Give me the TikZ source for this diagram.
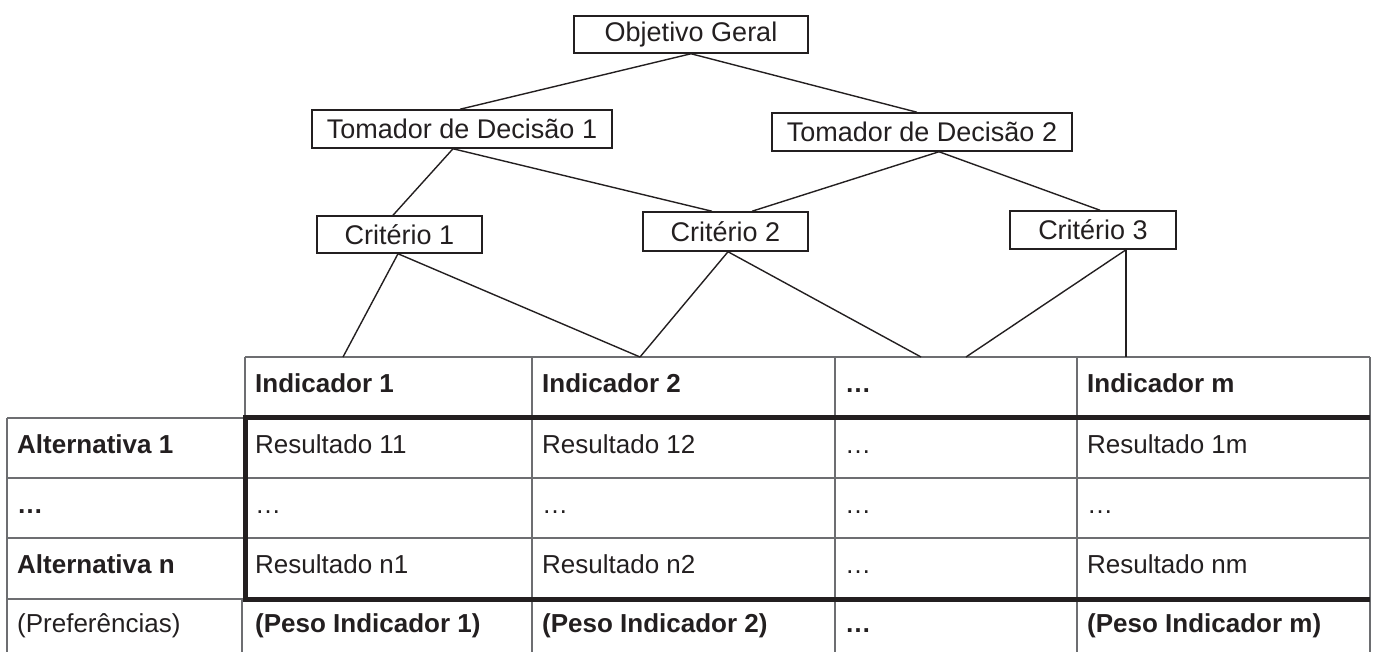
\documentclass[tikz,border=0pt]{standalone}
\usepackage{fontspec}
\setmainfont{Liberation Sans}
\definecolor{ink}{HTML}{231F20}
\definecolor{gridc}{HTML}{6D6E71}
\begin{document}
\begin{tikzpicture}[x=1pt,y=-1pt,
  box/.style={draw=ink, line width=1.5pt, inner sep=0pt, text=ink, font=\fontsize{27}{32}\selectfont},
  link/.style={draw=ink, line width=1.4pt},
  grid/.style={draw=gridc, line width=1.2pt},
  heavy/.style={draw=ink, line width=5pt, line join=miter},
  cell/.style={anchor=base west, inner sep=0pt, text=ink, font=\fontsize{26}{30}\selectfont},
  bcell/.style={anchor=base west, inner sep=0pt, text=ink, font=\fontsize{26}{30}\selectfont\bfseries}]
\useasboundingbox (0,0) rectangle (1375,652);

% tree boxes
\node[box, minimum width=234pt, minimum height=37pt] (obj) at (691,34.5) {Objetivo Geral};
\node[box, minimum width=300pt, minimum height=38pt] (tom1) at (462,129) {Tomador de Decisão 1};
\node[box, minimum width=300pt, minimum height=38pt] (tom2) at (922,132) {Tomador de Decisão 2};
\node[box, minimum width=165pt, minimum height=37pt] (cr1) at (399.5,234.5) {Critério 1};
\node[box, minimum width=165pt, minimum height=39pt] (cr2) at (725.5,231.5) {Critério 2};
\node[box, minimum width=166pt, minimum height=38pt] (cr3) at (1093,230) {Critério 3};

% free ends on the table top
\coordinate (e1) at (343,357);
\coordinate (e2) at (640,357);
\coordinate (e3) at (921,357);
\coordinate (e4) at (966,357);
\coordinate (e5) at (1126,357);

% table grid
\draw[grid] (245,357) -- (1370,357);
\draw[grid] (7,418) -- (245,418);
\draw[grid] (7,478) -- (1370,478);
\draw[grid] (7,538) -- (1370,538);
\draw[grid] (7,599) -- (245,599);
\draw[grid] (7,418) -- (7,652);
\draw[grid] (245,357) -- (245,599);
\draw[grid] (242,599) -- (242,652);
\draw[grid] (532,357) -- (532,652);
\draw[grid] (835,357) -- (835,652);
\draw[grid] (1077,357) -- (1077,652);
\draw[grid] (1370,357) -- (1370,652);
\draw[heavy] (1370,417) -- (245,417) -- (245,599) -- (1370,599);

% connectors
\draw[link] (obj.south) -- ([xshift=-2pt]tom1.north);
\draw[link] (obj.south) -- ([xshift=-5pt]tom2.north);
\draw[link] ([xshift=-9pt]tom1.south) -- ([xshift=-6.5pt]cr1.north);
\draw[link] ([xshift=-9pt]tom1.south) -- ([xshift=-13.5pt]cr2.north);
\draw[link] ([xshift=17pt]tom2.south) -- ([xshift=26.5pt]cr2.north);
\draw[link] ([xshift=17pt]tom2.south) -- ([xshift=7pt]cr3.north);
\draw[link] ([xshift=-1.5pt]cr1.south) -- (e1);
\draw[link] ([xshift=-1.5pt]cr1.south) -- (e2);
\draw[link] ([xshift=2.5pt]cr2.south) -- (e2);
\draw[link] ([xshift=2.5pt]cr2.south) -- (e3);
\draw[link] ([xshift=33pt]cr3.south) -- (e4);
\draw[link] ([xshift=33pt]cr3.south) -- (e5);

% header row
\node[bcell] (h1) at (255,392) {Indicador 1};
\node[bcell] (h2) at (542,392) {Indicador 2};
\node[bcell] (h3) at (845,392) {…};
\node[bcell] (h4) at (1087,392) {Indicador m};
% row 1
\node[bcell] (a1) at (17,453) {Alternativa 1};
\node[cell] (r11) at (255,453) {Resultado 11};
\node[cell] (r12) at (542,453) {Resultado 12};
\node[cell] (r13) at (845,453) {…};
\node[cell] (r14) at (1087,453) {Resultado 1m};
% row 2
\node[bcell] (a2) at (17,513) {…};
\node[cell] (r21) at (255,513) {…};
\node[cell] (r22) at (542,513) {…};
\node[cell] (r23) at (845,513) {…};
\node[cell] (r24) at (1087,513) {…};
% row 3
\node[bcell] (a3) at (17,573) {Alternativa n};
\node[cell] (r31) at (255,573) {Resultado n1};
\node[cell] (r32) at (542,573) {Resultado n2};
\node[cell] (r33) at (845,573) {…};
\node[cell] (r34) at (1087,573) {Resultado nm};
% row 4
\node[cell] (a4) at (17,632) {(Preferências)};
\node[bcell] (p1) at (255,632) {(Peso Indicador 1)};
\node[bcell] (p2) at (542,632) {(Peso Indicador 2)};
\node[bcell] (p3) at (845,632) {…};
\node[bcell] (p4) at (1087,632) {(Peso Indicador m)};
\end{tikzpicture}
\end{document}
